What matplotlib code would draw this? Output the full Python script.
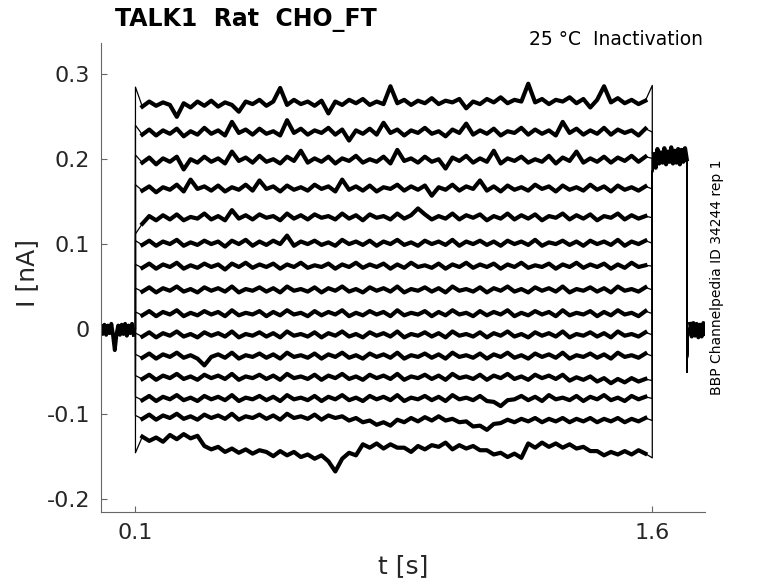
import numpy as np
import matplotlib
matplotlib.use("Agg")
import matplotlib.pyplot as plt

# holding / post-pulse segments (pA), shared by all sweeps
pre_vals = [3, -6, 5, -7, 4, -5, 6, -8, -25, -6, 4, -7, 5, -6, 6, -8, 4, -5, 6, -7, 0]
post_vals = [183, 206, 190, 212, 195, 208, 196, 213, 194, 209, 197, 214, 195, 210, 196, 212, 194, 211, 197, 213, 200]
tail_vals = [-51, -8, 6, -9, 7, -8, 6, -10, 5, -9, 7, -6]

# test-pulse sweeps (pA), 0.1 s .. 1.6 s
sweep_01 = [285, 262, 268, 263, 267, 264, 250, 266, 261, 268, 263, 269, 262, 267, 264, 256, 268, 265, 270, 263, 268, 284, 264, 270, 265, 268, 263, 269, 254, 268, 264, 270, 266, 271, 264, 268, 265, 286, 266, 270, 264, 269, 266, 272, 265, 269, 267, 271, 260, 268, 265, 271, 267, 273, 266, 270, 268, 289, 267, 271, 265, 270, 268, 273, 266, 271, 261, 270, 286, 267, 272, 266, 270, 265, 269, 287]
sweep_02 = [240, 229, 235, 228, 234, 230, 236, 227, 233, 229, 237, 230, 234, 228, 244, 231, 235, 229, 236, 230, 233, 228, 246, 231, 236, 229, 234, 231, 237, 229, 235, 222, 234, 230, 236, 229, 243, 231, 235, 228, 234, 231, 237, 230, 233, 227, 235, 231, 242, 229, 234, 230, 236, 228, 233, 231, 237, 229, 235, 230, 234, 228, 244, 231, 236, 229, 234, 230, 237, 229, 235, 231, 234, 228, 236, 232]
sweep_03 = [205, 196, 202, 194, 201, 197, 203, 188, 200, 196, 203, 197, 201, 195, 209, 198, 202, 196, 204, 197, 200, 195, 203, 198, 210, 196, 201, 197, 203, 195, 201, 198, 204, 196, 200, 197, 203, 195, 211, 198, 201, 196, 203, 197, 200, 189, 202, 198, 204, 196, 201, 197, 210, 195, 201, 198, 203, 196, 200, 197, 204, 195, 202, 198, 209, 196, 201, 197, 203, 196, 202, 198, 204, 197, 203, 201]
sweep_04 = [170, 163, 168, 161, 167, 164, 170, 162, 176, 165, 168, 163, 169, 162, 167, 164, 170, 163, 175, 165, 168, 162, 169, 164, 167, 163, 170, 165, 168, 162, 176, 164, 168, 163, 169, 162, 167, 165, 170, 163, 168, 164, 169, 157, 167, 164, 170, 163, 168, 165, 175, 163, 168, 162, 169, 164, 167, 163, 170, 165, 168, 162, 169, 164, 167, 163, 170, 164, 168, 162, 169, 164, 167, 163, 168, 165]
sweep_05 = [112, 124, 133, 128, 134, 129, 135, 128, 132, 130, 136, 129, 133, 128, 140, 130, 134, 129, 135, 131, 133, 128, 136, 130, 134, 129, 135, 131, 133, 129, 136, 130, 134, 128, 135, 131, 133, 129, 136, 130, 134, 142, 135, 129, 133, 130, 136, 129, 134, 131, 135, 128, 133, 130, 136, 129, 134, 130, 135, 128, 133, 131, 136, 129, 134, 130, 135, 128, 133, 131, 136, 129, 134, 130, 133, 131]
sweep_06 = [104, 99, 104, 98, 103, 100, 105, 98, 102, 99, 104, 100, 103, 97, 104, 100, 105, 98, 103, 99, 104, 100, 110, 98, 103, 100, 104, 99, 102, 98, 105, 100, 103, 99, 104, 98, 103, 100, 105, 99, 102, 98, 104, 100, 103, 99, 105, 98, 103, 100, 104, 99, 103, 98, 104, 100, 103, 99, 105, 98, 102, 100, 104, 99, 103, 98, 104, 100, 103, 99, 105, 98, 103, 100, 104, 101]
sweep_07 = [76, 72, 77, 71, 76, 73, 78, 71, 75, 72, 77, 73, 76, 70, 77, 73, 78, 72, 76, 73, 77, 71, 76, 73, 78, 72, 75, 73, 77, 71, 76, 73, 78, 72, 76, 73, 77, 71, 76, 72, 78, 73, 75, 72, 77, 71, 76, 73, 78, 72, 76, 73, 77, 71, 76, 73, 78, 72, 75, 73, 77, 71, 76, 73, 78, 72, 76, 73, 77, 71, 76, 72, 78, 73, 75, 74]
sweep_08 = [48, 44, 49, 43, 48, 45, 50, 44, 47, 43, 49, 45, 48, 44, 50, 43, 47, 45, 49, 44, 48, 43, 50, 45, 47, 44, 49, 43, 48, 45, 50, 44, 47, 43, 49, 45, 48, 44, 50, 43, 47, 45, 49, 44, 48, 43, 50, 45, 47, 44, 49, 43, 48, 45, 50, 44, 47, 43, 49, 45, 48, 44, 50, 43, 47, 45, 49, 44, 48, 43, 50, 45, 47, 44, 49, 46]
sweep_09 = [20, 16, 21, 15, 20, 17, 22, 15, 19, 16, 21, 17, 20, 15, 22, 16, 19, 17, 21, 15, 20, 16, 22, 17, 19, 15, 21, 16, 20, 17, 22, 15, 19, 16, 21, 17, 20, 15, 22, 16, 19, 17, 21, 15, 20, 16, 22, 17, 19, 15, 21, 16, 20, 17, 22, 15, 19, 16, 21, 17, 20, 15, 22, 16, 19, 17, 21, 15, 20, 16, 22, 17, 19, 15, 21, 18]
sweep_10 = [-5, -9, -4, -10, -5, -8, -3, -9, -6, -10, -4, -8, -5, -9, -3, -10, -6, -8, -4, -9, -5, -10, -3, -8, -6, -9, -4, -10, -5, -8, -3, -9, -6, -10, -4, -8, -5, -9, -3, -10, -6, -8, -4, -9, -5, -10, -3, -8, -6, -9, -4, -10, -5, -8, -3, -9, -6, -10, -4, -8, -5, -9, -3, -10, -6, -8, -4, -9, -5, -10, -3, -8, -6, -9, -4, -7]
sweep_11 = [-30, -34, -29, -35, -30, -33, -28, -34, -31, -35, -43, -33, -30, -34, -28, -35, -31, -33, -29, -34, -30, -35, -28, -33, -31, -34, -29, -35, -30, -33, -28, -34, -31, -35, -29, -33, -30, -34, -28, -35, -31, -33, -29, -34, -30, -35, -28, -33, -31, -34, -29, -35, -30, -33, -28, -34, -31, -35, -29, -33, -30, -34, -28, -35, -31, -33, -29, -34, -30, -35, -28, -33, -31, -34, -29, -32]
sweep_12 = [-55, -59, -54, -60, -55, -58, -53, -59, -56, -60, -54, -58, -55, -59, -53, -60, -56, -58, -54, -59, -55, -60, -53, -58, -56, -59, -54, -60, -55, -58, -53, -59, -56, -60, -54, -58, -55, -59, -53, -60, -56, -58, -54, -59, -55, -60, -53, -58, -56, -59, -54, -60, -55, -58, -53, -59, -56, -60, -54, -58, -55, -59, -54, -61, -57, -60, -56, -62, -58, -64, -59, -63, -58, -62, -59, -61]
sweep_13 = [-80, -84, -79, -85, -80, -83, -78, -84, -81, -85, -79, -83, -80, -84, -78, -85, -81, -83, -79, -84, -80, -85, -78, -83, -81, -84, -79, -85, -80, -83, -78, -84, -81, -85, -79, -83, -80, -84, -78, -85, -81, -83, -79, -84, -80, -85, -78, -83, -81, -84, -79, -85, -86, -91, -84, -83, -79, -84, -80, -85, -78, -83, -81, -84, -79, -85, -80, -83, -78, -84, -81, -85, -79, -83, -80, -82]
sweep_14 = [-102, -106, -101, -107, -102, -105, -100, -106, -103, -107, -101, -105, -102, -106, -100, -107, -103, -105, -101, -106, -102, -107, -100, -105, -103, -106, -101, -107, -102, -105, -103, -108, -105, -110, -108, -113, -110, -114, -107, -110, -105, -109, -104, -108, -103, -108, -106, -110, -109, -115, -114, -119, -112, -111, -107, -110, -106, -109, -105, -110, -106, -109, -105, -110, -106, -109, -105, -110, -106, -109, -105, -110, -106, -109, -105, -108]
sweep_15 = [-146, -127, -132, -128, -133, -125, -130, -124, -129, -126, -138, -142, -139, -145, -141, -146, -142, -147, -143, -145, -150, -144, -149, -145, -151, -148, -153, -149, -156, -168, -153, -146, -149, -136, -140, -135, -141, -136, -140, -140, -145, -138, -142, -137, -139, -134, -142, -137, -141, -138, -143, -143, -148, -146, -151, -147, -152, -135, -140, -134, -139, -135, -140, -136, -141, -139, -144, -144, -149, -145, -148, -144, -148, -143, -147, -152]

sweeps = [sweep_01, sweep_02, sweep_03, sweep_04, sweep_05, sweep_06, sweep_07, sweep_08,
          sweep_09, sweep_10, sweep_11, sweep_12, sweep_13, sweep_14, sweep_15]

t_on, t_off, t_post, t_end = 0.1, 1.6, 1.7, 1.753

ytick_vals = [-0.2, -0.1, 0, 0.1, 0.2, 0.3]
ytick_labels = ['-0.2', '-0.1', '0', '0.1', '0.2', '0.3']
xtick_vals = [0.1, 1.6]
xtick_labels = ['0.1', '1.6']

plt.rcParams['font.family'] = ['DejaVu Sans']

fig = plt.figure(figsize=(7.78, 5.83), dpi=100)
ax = fig.add_axes([101 / 778, 1 - 512 / 583, (705 - 101) / 778, (512 - 43) / 583])

t_pre = np.linspace(0, t_on, len(pre_vals))
t_p = np.linspace(t_off, t_post, len(post_vals))
t_tail = np.linspace(t_post, t_end, len(tail_vals))
pre = np.array(pre_vals) / 1000.0
post = np.array(post_vals) / 1000.0
tail = np.array(tail_vals) / 1000.0

for sw in sweeps:
    t_sw = np.linspace(t_on, t_off, len(sw))
    v_sw = np.array(sw) / 1000.0
    # thin full trace, including the step transitions
    t = np.concatenate([t_pre, t_sw, t_p, t_tail])
    v = np.concatenate([pre, v_sw, post, tail])
    ax.plot(t, v, color='black', lw=0.9)
    # heavier stroke on the noisy plateau only
    ax.plot(t_sw[1:-1], v_sw[1:-1], color='black', lw=3.0)

# heavier stroke on the shared holding segments
ax.plot(t_pre[:-1], pre[:-1], color='black', lw=2.8)
ax.plot(t_p[1:], post[1:], color='black', lw=3.0)
ax.plot(t_tail[2:], tail[2:], color='black', lw=2.8)

ax.set_xlim(0, t_end)
ax.set_ylim(-0.2158, 0.337)

ax.set_xticks(xtick_vals)
ax.set_xticklabels(xtick_labels)
ax.set_yticks(ytick_vals)
ax.set_yticklabels(ytick_labels)

for side in ['top', 'right']:
    ax.spines[side].set_visible(False)
for side in ['left', 'bottom']:
    ax.spines[side].set_color('#666666')
    ax.spines[side].set_linewidth(0.8)
ax.tick_params(direction='in', length=4.5, width=0.8, color='#666666',
               labelcolor='#262626', labelsize=16)
ax.tick_params(axis='y', pad=8)
ax.tick_params(axis='x', pad=8)

fig.text(27 / 778, 1 - 273 / 583, 'I [nA]', rotation=90, ha='center', va='center',
         fontsize=18, color='#262626')
fig.text(403 / 778, 1 - 566 / 583, 't [s]', ha='center', va='center',
         fontsize=18, color='#262626')
fig.text(115 / 778, 1 - 26 / 583, 'TALK1  Rat  CHO_FT', ha='left', va='baseline',
         fontsize=17, fontweight='bold')
fig.text(703 / 778, 1 - 45 / 583, '25 °C  Inactivation', ha='right', va='baseline',
         fontsize=13.5)
fig.text(717 / 778, 1 - 277 / 583, 'BBP Channelpedia ID 34244 rep 1', rotation=90,
         ha='center', va='center', fontsize=10)

fig.savefig('out.png', dpi=100)
